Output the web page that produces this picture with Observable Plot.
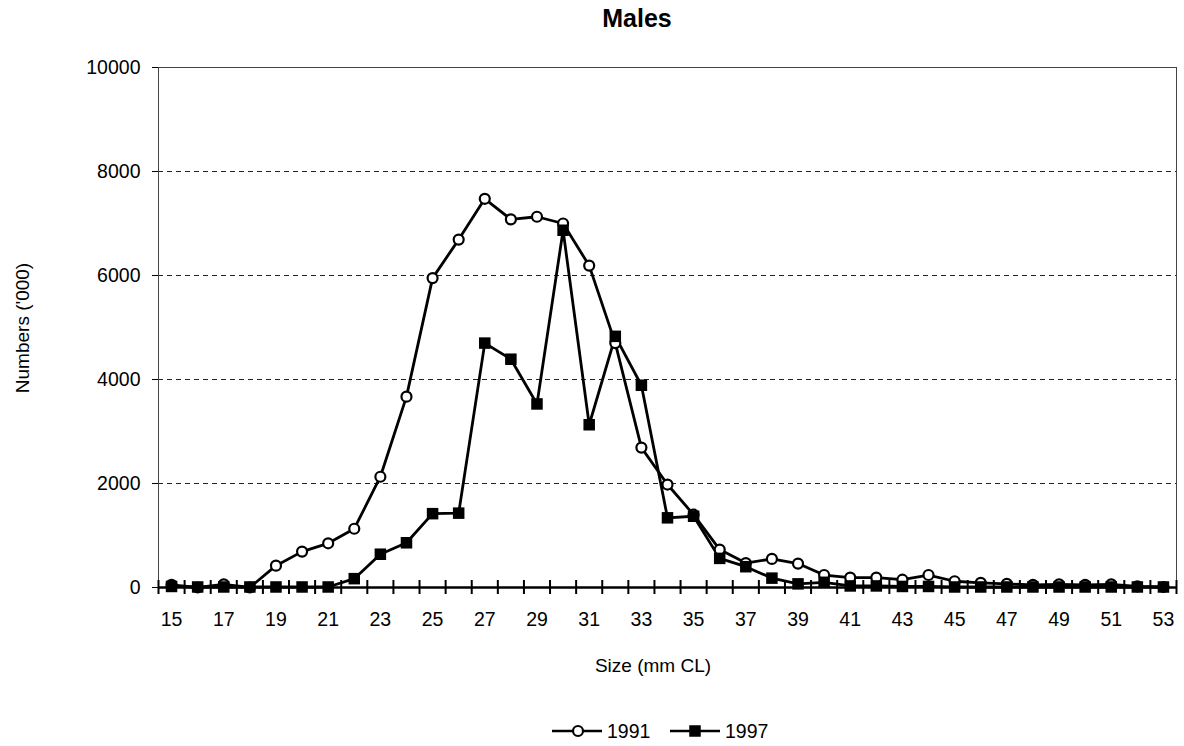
<!DOCTYPE html>
<html>
<head>
<meta charset="utf-8">
<script src="https://cdn.jsdelivr.net/npm/d3@7"></script>
<script src="https://cdn.jsdelivr.net/npm/@observablehq/plot@0.6"></script>
<style>
  body { margin: 0; background: #fff; font-family: "Liberation Sans", Arial, sans-serif; color: #000; }
  #wrap { position: relative; width: 1184px; height: 746px; overflow: hidden; }
  #chart { position: absolute; left: 0; top: 0; }
  .title { position: absolute; left: 537px; top: 0; width: 200px; height: 37px; line-height: 37px; text-align: center; font-weight: bold; font-size: 25px; }
  .xlab { position: absolute; left: 503px; top: 651px; width: 300px; height: 30px; line-height: 30px; text-align: center; font-size: 19px; }
  .ylab { position: absolute; left: -127px; top: 313px; width: 300px; height: 30px; line-height: 30px; text-align: center; font-size: 19px; transform: rotate(-90deg); }
  #legend { position: absolute; left: 540px; top: 700px; }
</style>
</head>
<body>
<div id="wrap">
  <div id="chart"></div>
  <div class="title">Males</div>
  <div class="xlab">Size (mm CL)</div>
  <div class="ylab">Numbers ('000)</div>
  <svg id="legend" width="260" height="46"></svg>
</div>
<script>
// Size classes (mm CL)
const sizes = [15,16,17,18,19,20,21,22,23,24,25,26,27,28,29,30,31,32,33,34,35,36,37,38,39,40,41,42,43,44,45,46,47,48,49,50,51,52,53];
// Numbers ('000)
const n1991 = [50,0,60,0,420,690,850,1130,2130,3670,5950,6690,7475,7080,7130,7000,6190,4700,2690,1980,1400,730,470,550,460,240,190,190,150,240,120,90,70,50,60,50,60,20,10];
const n1997 = [20,10,10,10,10,10,10,170,640,860,1420,1430,4700,4390,3530,6870,3130,4830,3890,1340,1370,560,400,180,70,100,30,30,20,20,10,10,10,10,10,10,10,10,10];
const seriesNames = ["1991", "1997"];
const yTicks = [0, 2000, 4000, 6000, 8000, 10000];
const yGrid = [2000, 4000, 6000, 8000];
const xTickLabels = [15,17,19,21,23,25,27,29,31,33,35,37,39,41,43,45,47,49,51,53];

const rows1991 = sizes.map((s, i) => ({size: s, value: n1991[i], year: seriesNames[0]}));
const rows1997 = sizes.map((s, i) => ({size: s, value: n1997[i], year: seriesNames[1]}));
const boundaries = sizes.map(s => s - 0.5).concat([sizes[sizes.length - 1] + 0.5]);

const chart = Plot.plot({
  width: 1184,
  height: 746,
  marginTop: 67,
  marginBottom: 159,
  marginLeft: 158,
  marginRight: 8,
  style: { fontFamily: "'Liberation Sans', Arial, sans-serif", fontSize: "19px", color: "#000", background: "#fff" },
  x: { domain: [sizes[0] - 0.5, sizes[sizes.length - 1] + 0.5] },
  y: { domain: [0, 10000] },
  marks: [
    Plot.gridY(yGrid, { stroke: "#222", strokeOpacity: 1, strokeWidth: 1, strokeDasharray: "5,4" }),
    Plot.frame({ stroke: "#444", strokeWidth: 1 }),
    Plot.axisY(yTicks, { tickSize: 6, tickPadding: 12, tickFormat: d => String(d), label: null, fontSize: 19.5, stroke: "#000" }),
    Plot.axisX(xTickLabels, { tickSize: 0, tickPadding: 25, tickFormat: d => String(d), label: null, fontSize: 19.5 }),
    Plot.ruleY([0], { stroke: "#000", strokeWidth: 2.5 }),
    Plot.ruleX(boundaries, { x: d => d, y1: 0, y2: 0, insetTop: -7, insetBottom: -7, stroke: "#000", strokeWidth: 2 }),
    Plot.line(rows1991, { x: "size", y: "value", stroke: "#000", strokeWidth: 2.8 }),
    Plot.line(rows1997, { x: "size", y: "value", stroke: "#000", strokeWidth: 2.8 }),
    Plot.dot(rows1991, { x: "size", y: "value", r: 5, fill: "#fff", stroke: "#000", strokeWidth: 2.2 }),
    Plot.dot(rows1997, { x: "size", y: "value", symbol: "square", r: 6.5, fill: "#000", stroke: "none" })
  ]
});
document.getElementById("chart").appendChild(chart);

// Legend
const lg = d3.select("#legend");
const items = [
  { name: seriesNames[0], x0: 12, x1: 62, cx: 38, text: 67 },
  { name: seriesNames[1], x0: 130, x1: 180, cx: 155, text: 185 }
];
items.forEach((it, i) => {
  lg.append("line").attr("x1", it.x0).attr("x2", it.x1).attr("y1", 31).attr("y2", 31)
    .attr("stroke", "#000").attr("stroke-width", 2.5);
  if (i === 0) {
    lg.append("circle").attr("cx", it.cx).attr("cy", 31).attr("r", 5)
      .attr("fill", "#fff").attr("stroke", "#000").attr("stroke-width", 2.2);
  } else {
    lg.append("rect").attr("x", it.cx - 5.75).attr("y", 31 - 5.75).attr("width", 11.5).attr("height", 11.5).attr("fill", "#000");
  }
  lg.append("text").attr("x", it.text).attr("y", 31).attr("dy", "0.35em")
    .attr("font-family", "'Liberation Sans', Arial, sans-serif").attr("font-size", 19.5).text(it.name);
});
</script>
</body>
</html>
